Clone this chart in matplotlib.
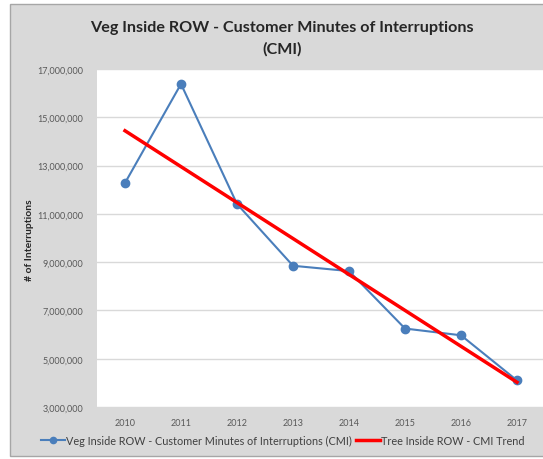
import numpy as np
import matplotlib
matplotlib.use("Agg")
import matplotlib.pyplot as plt
from matplotlib.patches import Rectangle
from matplotlib.ticker import FuncFormatter

years = ["2010", "2011", "2012", "2013", "2014", "2015", "2016", "2017"]
cmi = [12280000, 16380000, 11410000, 8850000, 8630000, 6250000, 5970000, 4100000]
yticks = [3000000, 5000000, 7000000, 9000000, 11000000, 13000000, 15000000, 17000000]

title = "Veg Inside ROW - Customer Minutes of Interruptions\n(CMI)"
ylabel = "# of Interruptions"
series_label = "Veg Inside ROW - Customer Minutes of Interruptions (CMI)"
trend_label = "Tree Inside ROW - CMI Trend"

plt.rcParams['font.family'] = ['Lato', 'DejaVu Sans']

fig = plt.figure(figsize=(5.43, 4.6), dpi=100)
fig.patch.set_facecolor("white")
fig.patches.append(Rectangle((10 / 543, 1 - 457 / 460), 1.0, (457 - 5) / 460,
                             transform=fig.transFigure, facecolor="#d9d9d9",
                             edgecolor="#a6a6a6", linewidth=1.0, zorder=-10))

ax = fig.add_axes([97 / 543, 1 - 408 / 460, (545 - 97) / 543, (408 - 70) / 460])
ax.set_zorder(1)
ax.set_facecolor("white")

x = np.arange(len(years))
coef = np.polyfit(x, cmi, 1)
trend = np.polyval(coef, x)

ax.plot(x, cmi, color="#4a7ebb", lw=1.5, marker="o", ms=6, zorder=3, label=series_label)
ax.plot(x, trend, color="#ff0000", lw=2.5, zorder=4, label=trend_label)

ax.set_xlim(-0.5, len(years) - 0.5)
ax.set_ylim(yticks[0], yticks[-1])
ax.set_yticks(yticks)
ax.yaxis.set_major_formatter(FuncFormatter(lambda v, p: f"{int(v):,}"))
ax.set_xticks(x)
ax.set_xticklabels(years)
ax.tick_params(axis="both", length=0, labelsize=6.5, labelcolor="#595959")
ax.tick_params(axis="x", pad=8)
ax.tick_params(axis="y", pad=10)
ax.grid(axis="y", color="#d9d9d9", lw=1.0)
ax.set_axisbelow(True)
for s in ax.spines.values():
    s.set_visible(False)

fig.text(282 / 543, 1 - 39 / 460, title, ha="center", va="center",
         fontsize=11.6, fontweight="bold", color="#262626", linespacing=1.65)
fig.text(30 / 543, 1 - 240 / 460, ylabel, rotation=90, ha="center", va="center",
         fontsize=7.5, fontweight="bold", color="#262626")

fig.legend(loc="center", bbox_to_anchor=(283 / 543, 1 - 441 / 460), ncol=2, frameon=False,
           fontsize=7.8, handlelength=2.2, columnspacing=0.4, handletextpad=0.1,
           markerscale=0.75, labelcolor="#404040")

fig.savefig("out.png", dpi=100)
